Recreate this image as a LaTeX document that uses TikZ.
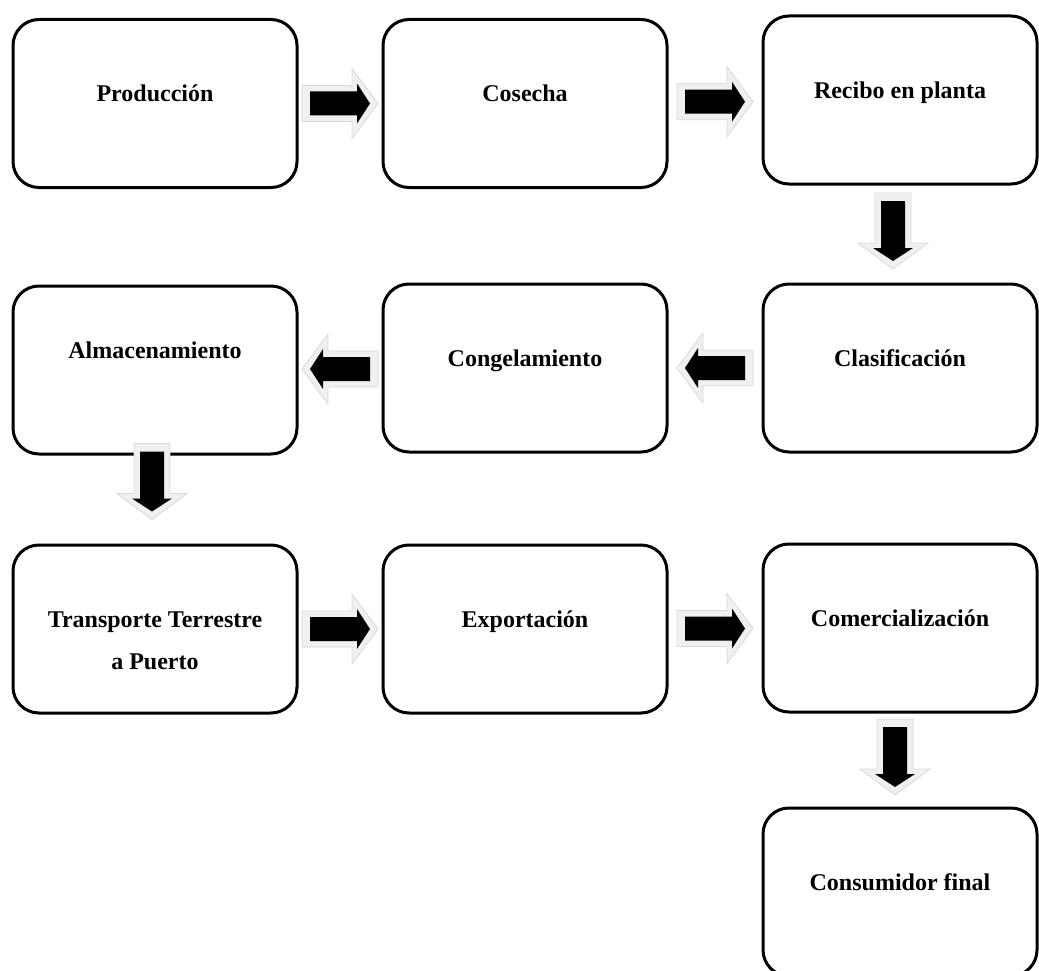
\documentclass[tikz,border=0pt]{standalone}
\usepackage{fontspec}
\setmainfont{Liberation Serif}
\usetikzlibrary{calc}
\tikzset{
  box/.style={draw, line width=3pt, rounded corners=26pt, minimum width=284pt, minimum height=168pt, inner sep=0pt},
  rbox/.style={box, minimum width=274pt},
  lbl/.style={font=\fontsize{24}{42}\selectfont\bfseries, inner sep=0pt, anchor=base},
  flow/.pic={
    \filldraw[fill=gray!12, draw=gray!30, line width=0.8pt] (-38,-18) -- (12,-18) -- (12,-35) -- (38,0) -- (12,35) -- (12,18) -- (-38,18) -- cycle;
    \fill[black] (-30,-12) -- (17,-12) -- (17,-20) -- (30,0) -- (17,20) -- (17,12) -- (-30,12) -- cycle;
  }
}
\begin{document}
\begin{tikzpicture}[x=1pt,y=-1pt]
\useasboundingbox (0,0) rectangle (1039,971);
% boxes
\node[box]  (prod)  at (155,103.5) {};
\node[box]  (cos)   at (525,103.5) {};
\node[rbox] (rec)   at (900,100) {};
\node[box]  (alm)   at (155,370) {};
\node[box]  (cong)  at (525,368) {};
\node[rbox] (clas)  at (900,368) {};
\node[box]  (trans) at (155,629) {};
\node[box]  (exp)   at (525,629) {};
\node[rbox] (com)   at (900,628) {};
\node[rbox] (cons)  at (900,892) {};
% labels
\node[lbl] (tprod)  at ([yshift=-84pt]prod.north)  {Producción};
\node[lbl] (tcos)   at ([yshift=-84pt]cos.north)   {Cosecha};
\node[lbl] (trec)   at ([yshift=-84pt]rec.north)   {Recibo en planta};
\node[lbl] (talm)   at ([yshift=-74pt]alm.north)   {Almacenamiento};
\node[lbl] (tcong)  at ([yshift=-84pt]cong.north)  {Congelamiento};
\node[lbl] (tclas)  at ([yshift=-84pt]clas.north)  {Clasificación};
\node[lbl] (ttrans) at ([yshift=-84pt]trans.north) {\begin{tabular}[t]{@{}c@{}}Transporte Terrestre\\a Puerto\end{tabular}};
\node[lbl] (texp)   at ([yshift=-84pt]exp.north)   {Exportación};
\node[lbl] (tcom)   at ([yshift=-84pt]com.north)   {Comercialización};
\node[lbl] (tcons)  at ([yshift=-84pt]cons.north)  {Consumidor final};
% arrows
\path ($(prod.east)!0.5!(cos.west)$) pic{flow};
\path ($(cos.east)!0.5!(rec.west)$) pic{flow};
\path ($(rec.south)!0.5!(clas.north)+(-7,-3)$) pic[rotate=-90]{flow};
\path ($(clas.west)!0.5!(cong.east)$) pic[rotate=180]{flow};
\path ($(cong.west)!0.5!(alm.east)$) pic[rotate=180]{flow};
\path ($(alm.south)!0.5!(trans.north)+(-3,-18)$) pic[rotate=-90]{flow};
\path ($(trans.east)!0.5!(exp.west)$) pic{flow};
\path ($(exp.east)!0.5!(com.west)$) pic{flow};
\path ($(com.south)!0.5!(cons.north)+(-5,-3)$) pic[rotate=-90]{flow};
\end{tikzpicture}
\end{document}
